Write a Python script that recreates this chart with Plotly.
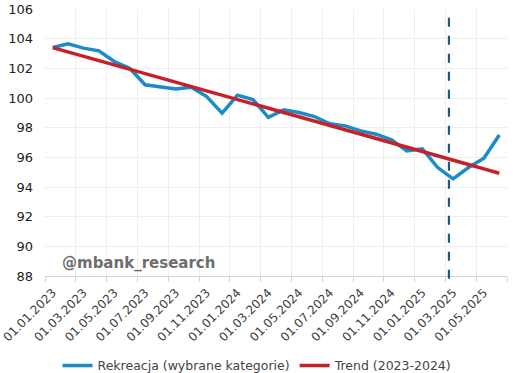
import plotly.graph_objects as go

months = ["01.01.2023","01.02.2023","01.03.2023","01.04.2023","01.05.2023","01.06.2023",
          "01.07.2023","01.08.2023","01.09.2023","01.10.2023","01.11.2023","01.12.2023",
          "01.01.2024","01.02.2024","01.03.2024","01.04.2024","01.05.2024","01.06.2024",
          "01.07.2024","01.08.2024","01.09.2024","01.10.2024","01.11.2024","01.12.2024",
          "01.01.2025","01.02.2025","01.03.2025","01.04.2025","01.05.2025","01.06.2025"]

rekreacja = [103.40, 103.65, 103.36, 103.18, 102.46, 102.00, 100.89, 100.73, 100.60, 100.73,
             100.10, 98.98, 100.19, 99.90, 98.70, 99.20, 99.02, 98.75, 98.26, 98.12,
             97.78, 97.56, 97.18, 96.43, 96.57, 95.31, 94.55, 95.31, 95.94, 97.51]

trend = [103.40, 103.11, 102.82, 102.52, 102.23, 101.94, 101.65, 101.36, 101.06, 100.77,
         100.48, 100.19, 99.90, 99.60, 99.31, 99.02, 98.73, 98.44, 98.14, 97.85,
         97.56, 97.27, 96.98, 96.68, 96.39, 96.10, 95.81, 95.52, 95.22, 94.93]

marker_pos = 25.73  # vertical dashed marker (around 01.03.2025)

idx = list(range(len(months)))
label_idx = idx[::2]
label_txt = [months[i] for i in label_idx]
boundaries = [i - 0.5 for i in range(0, len(months) + 1, 2)]

FONT = "DejaVu Sans"

fig = go.Figure()
fig.add_trace(go.Scatter(x=idx, y=rekreacja, mode="lines", name="Rekreacja (wybrane kategorie)",
                         line=dict(color="#1a8cc8", width=3.5)))
fig.add_trace(go.Scatter(x=idx, y=trend, mode="lines", name="Trend (2023-2024)",
                         line=dict(color="#c8202a", width=3.5)))

fig.add_shape(type="line", xref="x", yref="paper", x0=marker_pos, x1=marker_pos,
              y0=-0.01, y1=1.0, line=dict(color="#1b5a7a", width=2.2, dash="dash"))

fig.add_annotation(text="<b>@mbank_research</b>", xref="paper", yref="paper",
                   x=0.033, y=0.05, xanchor="left", yanchor="middle", showarrow=False,
                   font=dict(family=FONT, size=15, color="#6e6e6e"))

fig.update_layout(
    width=514, height=373,
    margin=dict(l=45, r=7, t=9, b=97, autoexpand=False),
    plot_bgcolor="white", paper_bgcolor="white",
    font=dict(family=FONT, size=12, color="#333333"),
    showlegend=True,
    legend=dict(orientation="h", x=0.46, xanchor="center", y=-0.337, yanchor="middle",
                font=dict(family=FONT, size=12.5, color="#444444"), itemwidth=30,
                tracegroupgap=0, bgcolor="rgba(0,0,0,0)"),
)

fig.update_xaxes(
    range=[-0.5, len(months) - 0.5], automargin=False, ticklabeloverflow="allow",
    tickmode="array", tickvals=label_idx, ticktext=label_txt,
    tickangle=-45, ticks="", showgrid=False, zeroline=False, ticklabelstandoff=4,
    tickfont=dict(family=FONT, size=12, color="#404040"),
    showline=True, linecolor="#d4d4d4", linewidth=1,
    minor=dict(tickmode="array", tickvals=boundaries, ticks="outside", ticklen=5,
               tickcolor="#d4d4d4", showgrid=True, gridcolor="#eeeeee", gridwidth=1),
)
fig.update_yaxes(
    range=[88, 106], dtick=2, tick0=88, showgrid=True, gridcolor="#eeeeee", automargin=False,
    zeroline=False, ticks="", ticklabelstandoff=11,
    tickfont=dict(family=FONT, size=13, color="#222222"),
)

fig.write_html("out.html", config={"displayModeBar": False},
               post_script="document.body.style.margin='0';document.body.style.overflow='hidden';")
